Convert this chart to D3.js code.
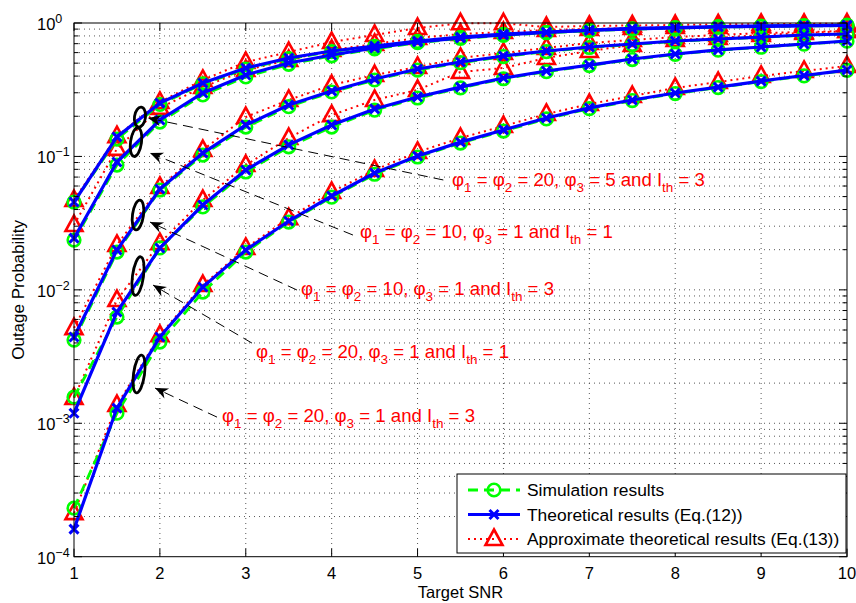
<!DOCTYPE html>
<html><head><meta charset="utf-8">
<script src="https://cdn.jsdelivr.net/npm/d3@7"></script>
<style>
body{margin:0;background:#fff}
svg{display:block}
text{font-family:"Liberation Sans",Arial,Helvetica,sans-serif}
</style>
</head><body><svg id="c" width="856" height="603"></svg>
<script>
// ---------------- data ----------------
const snr = [1,1.5,2,2.5,3,3.5,4,4.5,5,5.5,6,6.5,7,7.5,8,8.5,9,9.5,10];
const xTicks = [1,2,3,4,5,6,7,8,9,10];
const yTickExps = [0,-1,-2,-3,-4];

// theoretical (Eq.12)
const theoryC1 = [0.0455,0.140,0.251,0.355,0.460,0.547,0.617,0.672,0.733,0.785,0.827,0.856,0.886,0.910,0.925,0.941,0.950,0.958,0.966];
const theoryC2 = [0.0244,0.0908,0.1875,0.299,0.408,0.501,0.576,0.650,0.720,0.772,0.813,0.849,0.879,0.902,0.917,0.933,0.941,0.950,0.958];
const theoryC3 = [0.00443,0.0199,0.0570,0.106,0.172,0.243,0.309,0.380,0.452,0.510,0.566,0.617,0.661,0.696,0.733,0.759,0.785,0.813,0.827];
const theoryC4 = [0.00119,0.00682,0.0206,0.0432,0.0791,0.122,0.172,0.227,0.279,0.331,0.387,0.437,0.484,0.537,0.586,0.628,0.661,0.696,0.733];
const theoryC5 = [0.000161,0.00130,0.00443,0.0105,0.0199,0.0328,0.0505,0.0751,0.1007,0.128,0.158,0.194,0.231,0.265,0.299,0.331,0.367,0.404,0.444];

// simulation
const simC1 = [0.0455,0.135,0.245,0.350,0.452,0.540,0.610,0.668,0.728,0.780,0.822,0.852,0.882,0.905,0.922,0.938,0.948,0.956,0.965];
const simC2 = [0.0236,0.0862,0.181,0.289,0.394,0.490,0.568,0.640,0.712,0.766,0.808,0.845,0.875,0.899,0.915,0.931,0.940,0.949,0.957];
const simC3 = [0.00420,0.0192,0.0560,0.1024,0.166,0.236,0.304,0.374,0.444,0.504,0.560,0.610,0.655,0.690,0.728,0.755,0.782,0.810,0.825];
const simC4 = [0.00157,0.00625,0.0206,0.0418,0.0764,0.118,0.166,0.222,0.274,0.326,0.382,0.432,0.480,0.532,0.582,0.625,0.658,0.694,0.730];
const simC5 = [0.000231,0.00119,0.00406,0.00963,0.0192,0.0322,0.0495,0.0735,0.099,0.126,0.155,0.191,0.228,0.262,0.296,0.328,0.364,0.401,0.441];

// approximate (Eq.13)
const approxC1 = [0.0471,0.142,0.256,0.374,0.510,0.606,0.720,0.813,0.917,0.995,0.995,0.933,0.950,0.958,0.966,0.975,0.983,0.983,0.991];
const approxC2 = [0.0306,0.114,0.231,0.331,0.444,0.528,0.628,0.696,0.772,0.827,0.856,0.886,0.902,0.917,0.933,0.933,0.950,0.950,0.958];
const approxC3 = [0.00517,0.0217,0.0590,0.1117,0.1973,0.265,0.343,0.4075,0.468,0.547,0.596,0.650,0.708,0.746,0.785,0.813,0.841,0.856,0.871];
const approxC4 = [0.00155,0.00839,0.0224,0.0471,0.0862,0.1374,0.204,0.265,0.315,0.429,0.460,0.547,0.617,0.684,0.746,0.772,0.813,0.841,0.871];
const approxC5 = [0.000212,0.00137,0.00458,0.01086,0.0206,0.0345,0.0541,0.0791,0.108,0.1374,0.169,0.208,0.247,0.2836,0.326,0.361,0.401,0.437,0.476];

const theory = [theoryC1,theoryC2,theoryC3,theoryC4,theoryC5];
const sim = [simC1,simC2,simC3,simC4,simC5];
const approx = [approxC1,approxC2,approxC3,approxC4,approxC5];

// annotation labels
const phi12 = [20,10,10,20,20];
const phi3 = [5,1,1,1,1];
const ith = [3,1,3,1,3];
// annotation anchors in data coordinates
const ellX = [1.768,1.722,1.745,1.745,1.757];
const ellY = [0.197,0.128,0.0364,0.01268,0.00234];
const ellRy = [10,14.5,15,19.5,19];
const tipX = [1.861,1.885,1.885,1.920,1.943];
const tipY = [0.194,0.106,0.0322,0.01086,0.001836];
const tailX = [5.30,4.248,3.596,3.072,2.665];
const tailY = [0.0666,0.02575,0.00997,0.00399,0.001112];
const labX = [5.40,4.329,3.643,3.119,2.723];
const labY = [0.0600,0.02444,0.00910,0.00310,0.00102];

const legendLabels = ["Simulation results","Theoretical results (Eq.(12))","Approximate theoretical results (Eq.(13))"];

// ---------------- drawing ----------------
const svg = d3.select("#c");
const L = 74, R = 847, T = 23, B = 556.7;
const x = d3.scaleLinear().domain([1,10]).range([L,R]);
const y = d3.scaleLog().domain([1e-4,1]).range([B,T]);

// grid
const grid = svg.append("g").attr("stroke","#444").attr("stroke-width",0.9).attr("stroke-dasharray","1,4");
xTicks.slice(1,-1).forEach(v=>{
  grid.append("line").attr("x1",x(v)).attr("x2",x(v)).attr("y1",T).attr("y2",B);
});
const yMinor = [];
for (let e=-4;e<0;e++) for (let m=1;m<10;m++) yMinor.push(m*Math.pow(10,e));
yMinor.forEach(v=>{
  if (v<=1e-4) return;
  grid.append("line").attr("x1",L).attr("x2",R).attr("y1",y(v)).attr("y2",y(v));
});

const line = d3.line().x((d,i)=>x(snr[i])).y(d=>y(d));
const plot = svg.append("g");

// approximate (red dotted + triangles)
approx.forEach(s=>{
  plot.append("path").attr("d",line(s)).attr("fill","none").attr("stroke","#ff0000")
    .attr("stroke-width",2).attr("stroke-dasharray","2,4");
});
approx.forEach(s=>{
  s.forEach((v,i)=>{
    plot.append("path").attr("d","M0,-9.5L8.5,6L-8.5,6Z")
      .attr("transform",`translate(${x(snr[i])},${y(v)})`)
      .attr("fill","none").attr("stroke","#ff0000").attr("stroke-width",2.6).attr("stroke-linejoin","miter");
  });
});
// simulation (green dashed + circles)
sim.forEach(s=>{
  plot.append("path").attr("d",line(s)).attr("fill","none").attr("stroke","#00ff00")
    .attr("stroke-width",2.8).attr("stroke-dasharray","10,6");
});
sim.forEach(s=>{
  s.forEach((v,i)=>{
    plot.append("circle").attr("cx",x(snr[i])).attr("cy",y(v)).attr("r",6.3)
      .attr("fill","none").attr("stroke","#00ff00").attr("stroke-width",2.6);
  });
});
// theory (blue solid + x)
theory.forEach(s=>{
  plot.append("path").attr("d",line(s)).attr("fill","none").attr("stroke","#0000ff").attr("stroke-width",3.2);
});
theory.forEach(s=>{
  s.forEach((v,i)=>{
    plot.append("path").attr("d","M-4.5,-4.5L4.5,4.5M-4.5,4.5L4.5,-4.5")
      .attr("transform",`translate(${x(snr[i])},${y(v)})`)
      .attr("stroke","#0000ff").attr("stroke-width",3);
  });
});

// annotations
const ann = svg.append("g");
ellX.forEach((ex,i)=>{
  ann.append("ellipse").attr("cx",0).attr("cy",0).attr("rx",5.5).attr("ry",ellRy[i])
    .attr("transform",`translate(${x(ex)},${y(ellY[i])}) rotate(8)`)
    .attr("fill","none").attr("stroke","#000").attr("stroke-width",2.8);
});
tipX.forEach((tx,i)=>{
  const x1 = x(tailX[i]), y1 = y(tailY[i]), x2 = x(tx), y2 = y(tipY[i]);
  const ang = Math.atan2(y2-y1,x2-x1)*180/Math.PI;
  ann.append("line").attr("x1",x1).attr("y1",y1).attr("x2",x2).attr("y2",y2)
    .attr("stroke","#000").attr("stroke-width",1).attr("stroke-dasharray","10,6");
  ann.append("path").attr("d","M0,0L-13,-5.5L-9,0L-13,5.5Z")
    .attr("transform",`translate(${x2},${y2}) rotate(${ang})`).attr("fill","#000");
});
phi12.forEach((p,i)=>{
  const t = ann.append("text").attr("x",x(labX[i])).attr("y",y(labY[i]))
    .attr("fill","#ff0000").attr("font-size",18.6).attr("xml:space","preserve");
  const parts = [["\u03c6",0],["1",1],[" = \u03c6",0],["2",1],[` = ${p}, \u03c6`,0],["3",1],[` = ${phi3[i]} and I`,0],["th",1],[` = ${ith[i]}`,0]];
  let sub = false;
  parts.forEach(([s,isSub])=>{
    const ts = t.append("tspan").text(s);
    if (isSub) { ts.attr("font-size",13.5).attr("dy",6); sub = true; }
    else if (sub) { ts.attr("dy",-6); sub = false; }
  });
});

// axes box and ticks
const ax = svg.append("g").attr("stroke","#000").attr("stroke-width",1);
ax.append("rect").attr("x",L).attr("y",T).attr("width",R-L).attr("height",B-T).attr("fill","none");
xTicks.forEach(v=>{
  ax.append("line").attr("x1",x(v)).attr("x2",x(v)).attr("y1",B).attr("y2",B-8);
  ax.append("line").attr("x1",x(v)).attr("x2",x(v)).attr("y1",T).attr("y2",T+8);
});
yMinor.forEach(v=>{
  const major = Math.abs(Math.log10(v)-Math.round(Math.log10(v)))<1e-9;
  const len = major?8:4.5;
  ax.append("line").attr("x1",L).attr("x2",L+len).attr("y1",y(v)).attr("y2",y(v));
  ax.append("line").attr("x1",R).attr("x2",R-len).attr("y1",y(v)).attr("y2",y(v));
});
[1].forEach(v=>{
  ax.append("line").attr("x1",L).attr("x2",L+8).attr("y1",y(v)).attr("y2",y(v));
  ax.append("line").attr("x1",R).attr("x2",R-8).attr("y1",y(v)).attr("y2",y(v));
});

// tick labels
const lab = svg.append("g").attr("fill","#000").attr("font-size",16.5);
xTicks.forEach(v=>{
  lab.append("text").attr("x",x(v)).attr("y",B+22).attr("text-anchor","middle").text(v);
});
yTickExps.forEach(e=>{
  const t = lab.append("text").attr("x",L-37).attr("y",y(Math.pow(10,e))+7);
  t.append("tspan").text("10");
  t.append("tspan").attr("font-size",12.5).attr("dy",-7).text(e===0?"0":"\u2212"+(-e));
});
lab.append("text").attr("x",(L+R)/2).attr("y",598).attr("text-anchor","middle").text("Target SNR");
lab.append("text").attr("transform",`translate(24,${(T+B)/2}) rotate(-90)`).attr("text-anchor","middle").attr("font-size",17).text("Outage Probability");

// legend
const lg = svg.append("g");
const lx = 457, ly = 474, lw = 389, lh = 79;
lg.append("rect").attr("x",lx).attr("y",ly).attr("width",lw).attr("height",lh).attr("fill","#fff").attr("stroke","#000").attr("stroke-width",1);
const rowY = [490,514.5,539];
// simulation
lg.append("line").attr("x1",468).attr("x2",520).attr("y1",rowY[0]).attr("y2",rowY[0]).attr("stroke","#00ff00").attr("stroke-width",2.8).attr("stroke-dasharray","10,6");
lg.append("circle").attr("cx",494).attr("cy",rowY[0]).attr("r",6.3).attr("fill","none").attr("stroke","#00ff00").attr("stroke-width",2.6);
// theory
lg.append("line").attr("x1",468).attr("x2",520).attr("y1",rowY[1]).attr("y2",rowY[1]).attr("stroke","#0000ff").attr("stroke-width",3);
lg.append("path").attr("d","M-4.5,-4.5L4.5,4.5M-4.5,4.5L4.5,-4.5").attr("transform",`translate(494,${rowY[1]})`).attr("stroke","#0000ff").attr("stroke-width",3);
// approx
lg.append("line").attr("x1",468).attr("x2",520).attr("y1",rowY[2]).attr("y2",rowY[2]).attr("stroke","#ff0000").attr("stroke-width",2).attr("stroke-dasharray","2,4");
lg.append("path").attr("d","M0,-9.5L8.5,6L-8.5,6Z").attr("transform",`translate(494,${rowY[2]})`).attr("fill","none").attr("stroke","#ff0000").attr("stroke-width",2.6);
legendLabels.forEach((s,i)=>{
  lg.append("text").attr("x",527).attr("y",rowY[i]+6).attr("font-size",17.4).attr("fill","#000").text(s);
});
</script>
</body></html>
